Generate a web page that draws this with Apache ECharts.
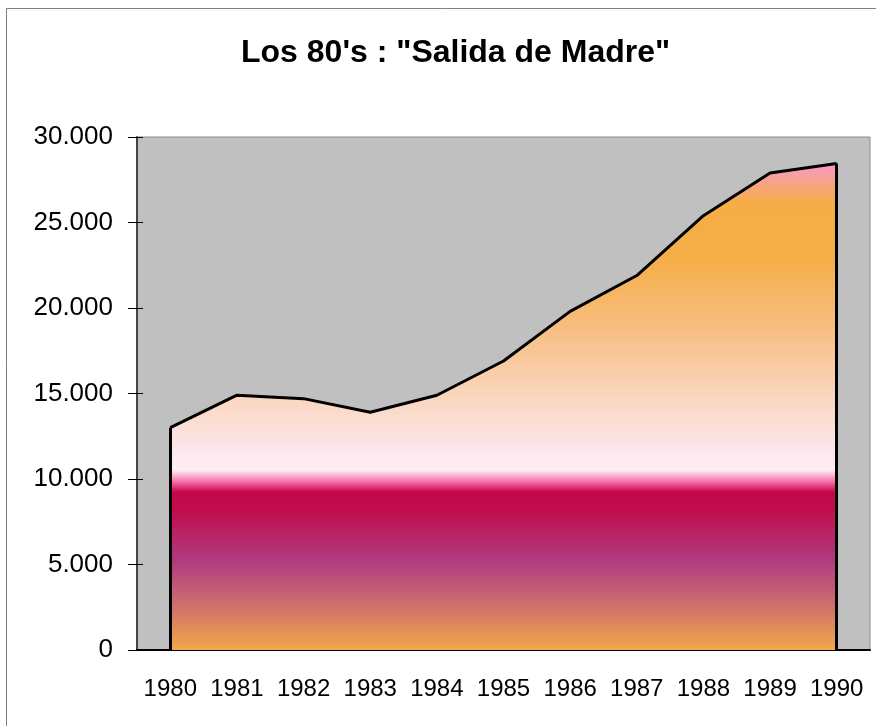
<!DOCTYPE html>
<html>
<head>
<meta charset="utf-8">
<script src="https://cdn.jsdelivr.net/npm/echarts@6/dist/echarts.min.js"></script>
<style>
  html, body { margin: 0; padding: 0; background: #fff; }
  #chart { width: 876px; height: 726px; }
</style>
</head>
<body>
<div id="chart"></div>
<script>
var years = ['1980', '1981', '1982', '1983', '1984', '1985', '1986', '1987', '1988', '1989', '1990'];
var salidas = [13000, 14900, 14700, 13900, 14900, 16900, 19800, 21900, 25400, 27900, 28450];
var yTicks = [0, 5000, 10000, 15000, 20000, 25000, 30000];

function miles(v) {
    return String(v).replace(/\B(?=(\d{3})+(?!\d))/g, '.');
}

var first = 0, last = years.length - 1;

var option = {
    animation: false,
    backgroundColor: '#fff',
    title: {
        text: 'Los 80\'s : "Salida de Madre"',
        left: 236,
        top: 32,
        textStyle: {
            fontFamily: 'Liberation Sans',
            fontWeight: 'bold',
            fontSize: 32,
            color: '#000'
        }
    },
    graphic: [{
        type: 'rect',
        shape: { x: 6.5, y: 8.5, width: 900, height: 800 },
        style: { fill: 'none', stroke: '#808080', lineWidth: 1 },
        z: -1
    }],
    grid: {
        left: 137,
        top: 137,
        right: 6,
        bottom: 76,
        show: true,
        backgroundColor: '#c0c0c0',
        borderColor: '#8a8a8a',
        borderWidth: 1
    },
    xAxis: [{
        type: 'category',
        data: years,
        axisLine: { lineStyle: { color: '#000', width: 2 } },
        axisTick: { length: 8, lineStyle: { color: '#333' } },
        axisLabel: {
            interval: 0,
            hideOverlap: false,
            margin: 27,
            fontFamily: 'Liberation Sans',
            fontSize: 24,
            color: '#000'
        }
    }, {
        type: 'category',
        data: years,
        position: 'bottom',
        axisLine: { show: false },
        axisTick: { inside: true, length: 10, lineStyle: { color: '#333' } },
        axisLabel: { show: false }
    }],
    yAxis: [{
        type: 'value',
        min: yTicks[0],
        max: yTicks[yTicks.length - 1],
        interval: yTicks[1] - yTicks[0],
        splitLine: { show: false },
        axisLine: { show: true, lineStyle: { color: '#444', width: 2 } },
        axisTick: { show: true, length: 9, lineStyle: { color: '#000' } },
        axisLabel: {
            margin: 24,
            fontFamily: 'Liberation Sans',
            fontSize: 26,
            color: '#000',
            formatter: miles
        }
    }, {
        type: 'value',
        position: 'left',
        min: yTicks[0],
        max: yTicks[yTicks.length - 1],
        interval: yTicks[1] - yTicks[0],
        splitLine: { show: false },
        axisLine: { show: false },
        axisTick: { show: true, inside: true, length: 6, lineStyle: { color: '#000' } },
        axisLabel: { show: false }
    }],
    series: [{
        type: 'line',
        data: salidas,
        symbol: 'none',
        lineStyle: { color: '#000', width: 3 },
        areaStyle: {
            opacity: 1,
            color: new echarts.graphic.LinearGradient(0, 0, 0, 1, [
                { offset: 0, color: '#f89ac4' },
                { offset: 0.08, color: '#f6ad48' },
                { offset: 0.2, color: '#f5ae48' },
                { offset: 0.34, color: '#f7be82' },
                { offset: 0.49, color: '#fad8c2' },
                { offset: 0.6, color: '#fde8f0' },
                { offset: 0.63, color: '#fdeef6' },
                { offset: 0.655, color: '#f46aa8' },
                { offset: 0.675, color: '#c4084a' },
                { offset: 0.71, color: '#c20c4c' },
                { offset: 0.815, color: '#b03a80' },
                { offset: 0.9, color: '#cc6a70' },
                { offset: 1, color: '#f2a848' }
            ], false)
        },
        markLine: {
            silent: true,
            symbol: 'none',
            label: { show: false },
            lineStyle: { color: '#000', width: 3, type: 'solid' },
            data: [
                [{ coord: [years[first], 0] }, { coord: [years[first], salidas[first]] }],
                [{ coord: [years[last], 0] }, { coord: [years[last], salidas[last]] }]
            ]
        }
    }]
};

var myChart = echarts.init(document.getElementById('chart'));
myChart.setOption(option);
</script>
</body>
</html>
